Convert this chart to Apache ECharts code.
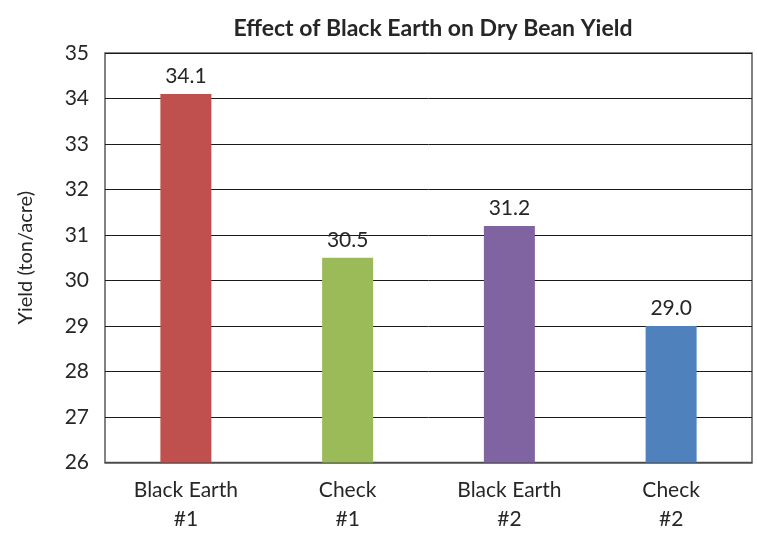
<!DOCTYPE html>
<html>
<head>
<meta charset="utf-8">
<script src="https://cdn.jsdelivr.net/npm/echarts@6/dist/echarts.min.js"></script>
<style>html,body{margin:0;padding:0;background:#fff}#c{width:757px;height:535px}</style>
</head>
<body>
<div id="c"></div>
<script>
var categories = ['Black Earth\n#1', 'Check\n#1', 'Black Earth\n#2', 'Check\n#2'];
var values = [34.1, 30.5, 31.2, 29.0];
var barColors = ['#C0504D', '#9BBB59', '#8064A2', '#4F81BD'];
var yMin = 26, yMax = 35, yStep = 1;

var chart = echarts.init(document.getElementById('c'), null, {renderer: 'canvas'});
var font = 'Lato, "Noto Sans", sans-serif';
chart.setOption({
  animation: false,
  backgroundColor: '#fff',
  title: {
    text: 'Effect of Black Earth on Dry Bean Yield',
    left: 428, top: 12, textAlign: 'center',
    textStyle: {fontFamily: font, fontSize: 23, fontWeight: 'bold', color: '#262626'}
  },
  grid: {left: 105, right: 5, top: 53, bottom: 72.5, show: true, borderColor: '#595959', borderWidth: 1.5},
  xAxis: {
    type: 'category', data: categories,
    axisLine: {show: true, lineStyle: {color: '#595959', width: 1.5}},
    axisTick: {show: false},
    axisLabel: {fontFamily: font, fontSize: 21, color: '#262626', lineHeight: 29, margin: 13}
  },
  yAxis: {
    type: 'value', min: yMin, max: yMax, interval: yStep,
    name: 'Yield (ton/acre)', nameLocation: 'middle', nameGap: 69,
    nameTextStyle: {fontFamily: font, fontSize: 20, color: '#262626'},
    axisLine: {show: false}, axisTick: {show: false},
    axisLabel: {fontFamily: font, fontSize: 21, color: '#262626', margin: 16},
    splitLine: {lineStyle: {color: '#1a1a1a', width: 1}}
  },
  series: [{
    type: 'bar', barWidth: 51,
    data: values.map(function (v, i) { return {value: v, itemStyle: {color: barColors[i]}}; }),
    label: {
      show: true, position: 'top', distance: 7,
      fontFamily: font, fontSize: 21, color: '#262626',
      formatter: function (p) { return p.value.toFixed(1); }
    }
  }]
});
</script>
</body>
</html>
